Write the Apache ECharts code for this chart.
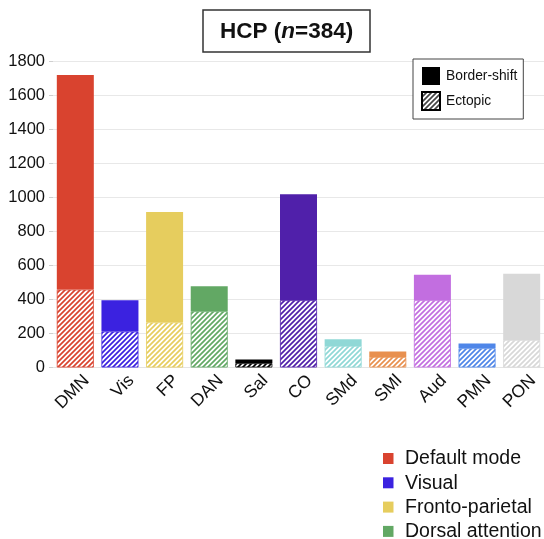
<!DOCTYPE html>
<html>
<head>
<meta charset="utf-8">
<script src="https://cdn.jsdelivr.net/npm/echarts@6/dist/echarts.min.js"></script>
<style>
  html, body { margin: 0; padding: 0; background: #fff; }
  #chart { width: 544px; height: 539px; }
</style>
</head>
<body>
<div id="chart"></div>
<script>
// Network labels along the x axis
const categories = ['DMN', 'Vis', 'FP', 'DAN', 'Sal', 'CO', 'SMd', 'SMl', 'Aud', 'PMN', 'PON'];
// Ectopic counts (hatched, lower part of each stack)
const ectopic = [459, 212, 266, 331, 25, 396, 127, 62, 396, 113, 162];
// Border-shift counts (solid, upper part of each stack)
const borderShift = [1263, 184, 650, 147, 22, 624, 39, 32, 150, 29, 390];
// One colour per network
const networkColors = ['#d9432f', '#3b22e0', '#e6cd5e', '#62a864', '#000000', '#5020aa',
                       '#8fd8d6', '#e8904f', '#c26ee0', '#4f86e8', '#d8d8d8'];
// Names shown in the network key
const networkNames = ['Default mode', 'Visual', 'Fronto-parietal', 'Dorsal attention'];
const yTicks = { min: 0, max: 1800, interval: 200 };

const FONT = '"Liberation Sans", Arial, Helvetica, sans-serif';

// Diagonal-stripe fill on white
function hatch(color) {
  const s = 5;
  const c = document.createElement('canvas');
  c.width = s; c.height = s;
  const g = c.getContext('2d');
  g.fillStyle = '#fff';
  g.fillRect(0, 0, s, s);
  g.strokeStyle = color;
  g.lineWidth = 1.7;
  g.beginPath();
  g.moveTo(0, s); g.lineTo(s, 0);
  g.moveTo(-1, 1); g.lineTo(1, -1);
  g.moveTo(s - 1, s + 1); g.lineTo(s + 1, s - 1);
  g.stroke();
  return { image: c, repeat: 'repeat' };
}

const chart = echarts.init(document.getElementById('chart'), null, { renderer: 'canvas' });

// Network colour key, lower right
const keyGraphics = [];
networkNames.forEach((name, i) => {
  const y = 458.5 + i * 24.3;
  keyGraphics.push({
    type: 'rect', left: 383, top: y - 5.5,
    shape: { width: 10.5, height: 11 },
    style: { fill: networkColors[i] }
  });
  keyGraphics.push({
    type: 'text', x: 405, y: y + 0.5,
    style: { text: name, font: '19.5px ' + FONT, fill: '#111', verticalAlign: 'middle' }
  });
});

chart.setOption({
  animation: false,
  textStyle: { fontFamily: FONT },
  title: {
    text: '{b|HCP (}{i|n}{b|=384)}',
    left: 203, top: 10,
    padding: [10, 17, 9, 17],
    borderColor: '#333', borderWidth: 1.5,
    textStyle: {
      rich: {
        b: { fontSize: 22.5, fontWeight: 'bold', fontFamily: FONT, color: '#111' },
        i: { fontSize: 22.5, fontWeight: 'bold', fontStyle: 'italic', fontFamily: FONT, color: '#111' }
      }
    }
  },
  legend: {
    orient: 'vertical',
    left: 413, top: 59,
    padding: [8, 6, 8, 8],
    itemGap: 6,
    itemWidth: 18, itemHeight: 18,
    icon: 'rect',
    borderColor: '#444', borderWidth: 1,
    backgroundColor: '#fff',
    textStyle: { fontSize: 13.8, color: '#111', fontFamily: FONT, padding: [0, 0, 0, 1] },
    data: ['Border-shift', 'Ectopic']
  },
  grid: { left: 53, right: 0, top: 61.7, bottom: 171.5 },
  xAxis: {
    type: 'category',
    data: categories,
    axisLine: { lineStyle: { color: '#e4e4e4' } },
    axisTick: { show: false },
    axisLabel: {
      rotate: 45, fontSize: 17.5, color: '#111', margin: 9, fontFamily: FONT,
      verticalAlign: 'top', padding: [0, -7, 0, 0]
    }
  },
  yAxis: {
    type: 'value',
    min: yTicks.min, max: yTicks.max, interval: yTicks.interval,
    axisLine: { show: false },
    axisTick: { show: true, length: 4, lineStyle: { color: '#cfcfcf' } },
    splitLine: { lineStyle: { color: '#e8e8e8' } },
    axisLabel: { fontSize: 16.5, color: '#111', margin: 8, fontFamily: FONT, formatter: v => String(v) }
  },
  series: [
    {
      name: 'Ectopic', type: 'bar', stack: 'n', barWidth: 37,
      itemStyle: { color: hatch('#444'), borderColor: '#000', borderWidth: 1 },
      data: ectopic.map((v, i) => ({
        value: v,
        itemStyle: { color: hatch(networkColors[i]), borderColor: networkColors[i], borderWidth: 0.8 }
      }))
    },
    {
      name: 'Border-shift', type: 'bar', stack: 'n', barWidth: 37,
      itemStyle: { color: '#000' },
      data: borderShift.map((v, i) => ({
        value: v,
        itemStyle: { color: networkColors[i] }
      }))
    }
  ],
  graphic: keyGraphics
});
</script>
</body>
</html>
